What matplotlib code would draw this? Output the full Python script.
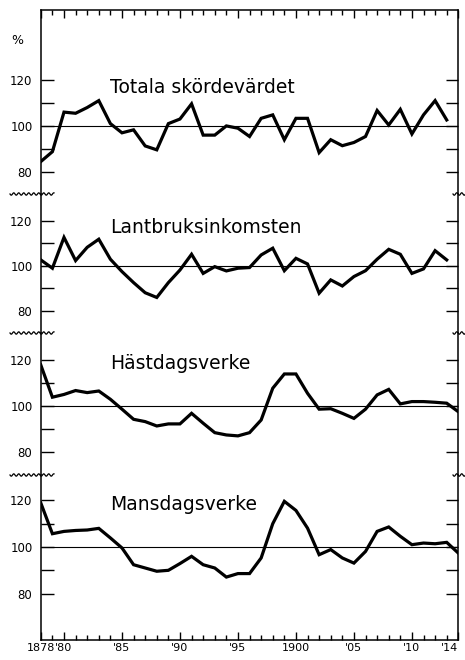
import numpy as np
import matplotlib
matplotlib.use("Agg")
import matplotlib.pyplot as plt
from matplotlib.ticker import MultipleLocator

years = np.arange(1878, 1915)

# index numbers, percent of trend
totala = [84.5, 88.8, 106.0, 105.5, 108.0, 111.0, 101.0, 97.0, 98.3, 91.3,
          89.6, 101.0, 103.0, 109.6, 96.0, 96.0, 100.0, 99.0, 95.4, 103.3,
          104.8, 94.0, 103.3, 103.3, 88.4, 94.0, 91.4, 92.8, 95.4, 106.7,
          100.4, 107.2, 96.5, 104.8, 111.0, 102.6]
lantbruk = [102.7, 99.0, 112.7, 102.4, 108.3, 111.9, 103.0, 97.5, 92.6, 88.1,
            86.0, 92.6, 98.2, 105.2, 96.7, 99.7, 97.8, 99.0, 99.3, 104.9,
            107.9, 97.9, 103.4, 100.9, 87.9, 93.8, 91.1, 95.3, 97.9, 103.0,
            107.4, 105.2, 96.7, 98.7, 106.8, 102.7]
hast = [117.8, 103.8, 105.0, 106.7, 105.8, 106.5, 102.9, 98.6, 94.2, 93.2,
        91.3, 92.2, 92.2, 96.8, 92.5, 88.4, 87.4, 87.0, 88.4, 93.9,
        107.7, 113.9, 113.9, 105.5, 98.6, 98.8, 96.8, 94.6, 98.6, 104.8,
        107.2, 100.9, 101.9, 101.9, 101.6, 101.2, 97.5]
mans = [118.9, 105.7, 106.7, 107.1, 107.3, 108.0, 103.9, 99.6, 92.4, 91.0,
        89.6, 90.0, 92.9, 96.0, 92.4, 91.0, 87.1, 88.6, 88.6, 95.3,
        110.0, 119.6, 115.7, 108.1, 96.7, 98.9, 95.3, 93.1, 98.1, 106.7,
        108.6, 104.6, 101.0, 101.7, 101.4, 102.0, 97.4]

series = [totala, lantbruk, hast, mans]
titles = ["Totala skördevärdet", "Lantbruksinkomsten", "Hästdagsverke", "Mansdagsverke"]
ylims = [(70.4, 150.4), (70.2, 132.0), (70.0, 131.7), (60.1, 130.9)]
title_y = [114.2, 114.8, 116.0, 115.9]

xtick_pos = [1878, 1880, 1885, 1890, 1895, 1900, 1905, 1910, 1914]
xtick_lab = ["1878", "'80", "'85", "'90", "'95", "1900", "'05", "'10", "'14"]

W, H = 465, 660
fig = plt.figure(figsize=(W / 100, H / 100), dpi=100)
gs = fig.add_gridspec(4, 1, height_ratios=[184, 139, 142, 165], hspace=0,
                      left=40.8 / W, right=458.3 / W, top=1 - 10 / H, bottom=1 - 640 / H)

axes = []
for i in range(4):
    ax = fig.add_subplot(gs[i])
    vals = series[i]
    ax.plot(years[:len(vals)], vals, color="black", lw=2.3, solid_joinstyle="miter")
    ax.axhline(100, color="black", lw=0.8)
    ax.set_xlim(1878, 1914)
    ax.set_ylim(*ylims[i])
    ax.set_yticks([80, 90, 100, 110, 120])
    ax.set_yticklabels(["80", "", "100", "", "120"])
    ax.tick_params(axis="y", direction="in", length=9, width=1, left=True, right=True,
                   labelsize=8.5, pad=6)
    for s in ax.spines.values():
        s.set_linewidth(1.1)
    ax.spines["top"].set_visible(i == 0)
    ax.spines["bottom"].set_visible(i == 3)
    ax.text(1884.0, title_y[i], titles[i], fontsize=13.5, va="baseline", ha="left")

    ax.set_xticks(xtick_pos)
    ax.xaxis.set_minor_locator(MultipleLocator(1))
    if i == 3:
        ax.set_xticklabels(xtick_lab)
        ax.tick_params(axis="x", which="major", direction="in", length=6, width=1,
                       top=False, bottom=True, labelsize=8, pad=2)
        ax.tick_params(axis="x", which="minor", direction="in", length=3.5, width=1,
                       top=False, bottom=True)
        ax.get_xticklabels()[-1].set_horizontalalignment("right")
    elif i == 0:
        ax.tick_params(axis="x", which="major", direction="in", length=6, width=1,
                       top=True, bottom=False, labelbottom=False)
        ax.tick_params(axis="x", which="minor", direction="in", length=3.5, width=1,
                       top=True, bottom=False)
    else:
        ax.tick_params(axis="x", which="both", top=False, bottom=False, labelbottom=False)
    axes.append(ax)

# wavy break marks at the panel joins
for yb in [194, 333, 475]:
    for x0, x1 in [(10, 54), (453, 465)]:
        xs = np.linspace(x0, x1, 80)
        ys = yb + 1.2 * np.sin((xs - x0) / 5.0 * 2 * np.pi)
        fig.add_artist(plt.Line2D(xs / W, 1 - ys / H, color="black", lw=0.9,
                                  transform=fig.transFigure))

fig.text(17 / W, 1 - 40 / H, "%", fontsize=9, ha="center", va="center")

fig.savefig("out.png", dpi=100)
